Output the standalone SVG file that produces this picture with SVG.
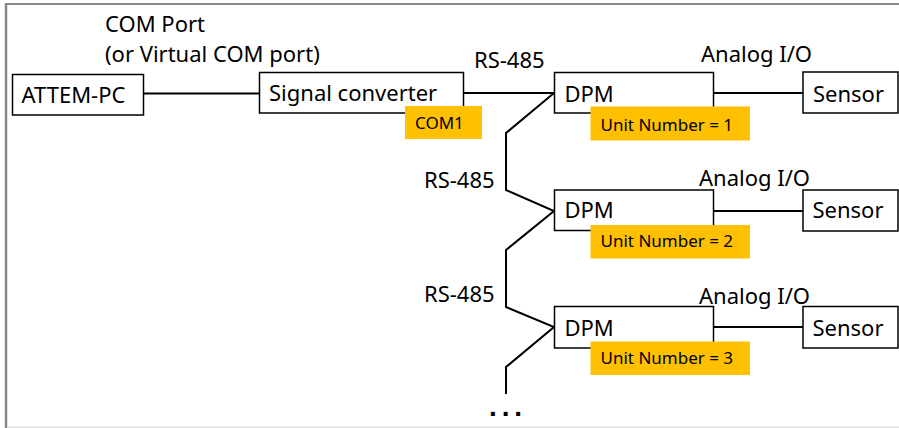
<svg xmlns="http://www.w3.org/2000/svg" width="899" height="428" viewBox="0 0 899 428">
<style>
.box{fill:#fff;stroke:#000;stroke-width:1.5}
.tag{fill:#FFC000}
.t{font-family:"Noto Sans","Liberation Sans",sans-serif;font-size:22px;fill:#000}
.s{font-family:"Noto Sans","Liberation Sans",sans-serif;font-size:17px;fill:#000}
.ln{fill:none;stroke:#000;stroke-width:2}
</style>
<rect x="0" y="0" width="899" height="428" fill="#fff"/>
<g id="frame">
<line x1="5" y1="4" x2="899" y2="4" stroke="#888" stroke-width="2"/>
<line x1="6" y1="3" x2="6" y2="428" stroke="#888" stroke-width="2.5"/>
<line x1="7" y1="427" x2="899" y2="427" stroke="#e0e0e0" stroke-width="1.5"/>
</g>
<g id="connectors">
<line class="ln" x1="143" y1="93.5" x2="259" y2="93.5"/>
<line class="ln" x1="463" y1="93" x2="554" y2="93"/>
<line class="ln" x1="713" y1="93" x2="803" y2="93"/>
<line class="ln" x1="713" y1="211" x2="803" y2="211"/>
<line class="ln" x1="713" y1="327" x2="803" y2="327"/>
<polyline class="ln" points="554,93 506,133 506,190 554,211 506,250 506,307 554,327 506,367 506,394"/>
</g>
<g id="labels">
<text class="t" x="105" y="31.5">COM Port</text>
<text class="t" x="105" y="61.5">(or Virtual COM port)</text>
<text class="t" x="474" y="68">RS-485</text>
<text class="t" x="701" y="62">Analog I/O</text>
<text class="t" x="424" y="188">RS-485</text>
<text class="t" x="699" y="186">Analog I/O</text>
<text class="t" x="424" y="301.5">RS-485</text>
<text class="t" x="699" y="304">Analog I/O</text>
<text x="489" y="415.7" font-family="Liberation Sans,Arial,sans-serif" font-size="28" font-weight="bold" letter-spacing="4.9">...</text>
</g>
<g id="pc">
<rect class="box" x="12.5" y="74.5" width="131" height="40.5"/>
<text class="t" x="21.5" y="103.3">ATTEM-PC</text>
</g>
<g id="converter">
<rect class="box" x="259.5" y="72.5" width="204" height="40.5"/>
<text class="t" x="269" y="100.7">Signal converter</text>
<rect class="tag" x="405" y="106" width="77" height="33"/>
<text class="s" x="415" y="128.5">COM1</text>
</g>
<g id="dpm1">
<rect class="box" x="554.5" y="72.5" width="159" height="40.5"/>
<text class="t" x="564.5" y="101.7">DPM</text>
<rect class="tag" x="590.5" y="106.5" width="159.5" height="34"/>
<text class="s" x="600.5" y="130.7">Unit Number = 1</text>
</g>
<g id="sensor1">
<rect class="box" x="803" y="72" width="95" height="41"/>
<text class="t" x="813" y="101.7">Sensor</text>
</g>
<g id="dpm2">
<rect class="box" x="554.5" y="190" width="159" height="40.5"/>
<text class="t" x="564.5" y="218.3">DPM</text>
<rect class="tag" x="590.5" y="225" width="159.5" height="33.5"/>
<text class="s" x="600.5" y="247.3">Unit Number = 2</text>
</g>
<g id="sensor2">
<rect class="box" x="803" y="190" width="95" height="41"/>
<text class="t" x="812.5" y="218.3">Sensor</text>
</g>
<g id="dpm3">
<rect class="box" x="554.5" y="306.5" width="159" height="41.5"/>
<text class="t" x="564.5" y="335.7">DPM</text>
<rect class="tag" x="590.5" y="341.5" width="159.5" height="33.5"/>
<text class="s" x="600.5" y="364">Unit Number = 3</text>
</g>
<g id="sensor3">
<rect class="box" x="803" y="306.5" width="95" height="41.5"/>
<text class="t" x="812.5" y="335.7">Sensor</text>
</g>
</svg>
